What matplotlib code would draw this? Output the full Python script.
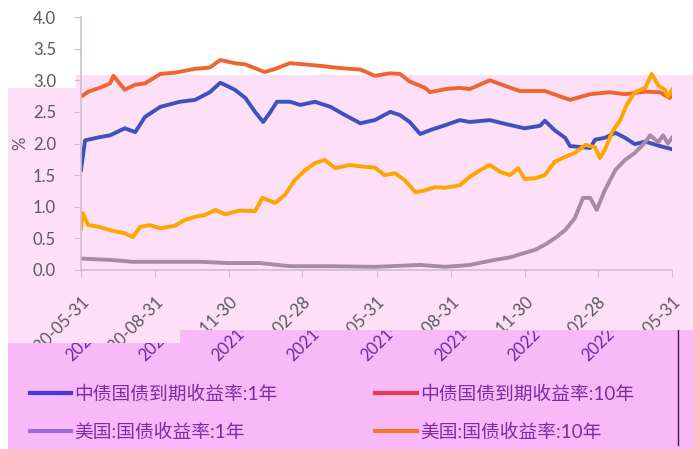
import pandas as pd
import matplotlib
matplotlib.use('Agg')
import matplotlib.pyplot as plt
import matplotlib.transforms as mtransforms
from matplotlib.patches import Rectangle
from matplotlib.lines import Line2D

plt.rcParams['font.family'] = ['Lato', 'Noto Sans CJK SC', 'DejaVu Sans']

# ---- data ----
cn1_dates = ['2020-05-31', '2020-06-05', '2020-06-23', '2020-07-06', '2020-07-24', '2020-08-06',
             '2020-08-18', '2020-09-06', '2020-09-30', '2020-10-19', '2020-11-06', '2020-11-19',
             '2020-11-29', '2020-12-07', '2020-12-20', '2021-01-01', '2021-01-11', '2021-01-19',
             '2021-01-28', '2021-02-13', '2021-02-26', '2021-03-16', '2021-04-04', '2021-04-22',
             '2021-05-11', '2021-05-29', '2021-06-17', '2021-06-29', '2021-07-11', '2021-07-24',
             '2021-08-05', '2021-08-24', '2021-09-11', '2021-09-23', '2021-10-18', '2021-11-06',
             '2021-11-30', '2021-12-19', '2021-12-25', '2022-01-06', '2022-01-19', '2022-01-25',
             '2022-02-19', '2022-02-25', '2022-03-09', '2022-03-22', '2022-04-03', '2022-04-15',
             '2022-04-28', '2022-05-16', '2022-05-31']
cn1_values = [1.58, 2.05, 2.10, 2.13, 2.24, 2.18, 2.42, 2.58, 2.66, 2.69, 2.81, 2.96, 2.90, 2.85,
              2.72, 2.50, 2.34, 2.48, 2.66, 2.66, 2.61, 2.66, 2.58, 2.45, 2.32, 2.37, 2.50, 2.45,
              2.34, 2.15, 2.21, 2.29, 2.37, 2.34, 2.37, 2.31, 2.24, 2.28, 2.36, 2.21, 2.09, 1.96,
              1.93, 2.06, 2.09, 2.17, 2.09, 1.99, 2.03, 1.96, 1.91]

cn10_dates = ['2020-05-31', '2020-06-09', '2020-06-23', '2020-07-06', '2020-07-10', '2020-07-24',
              '2020-08-06', '2020-08-18', '2020-09-06', '2020-09-24', '2020-10-19', '2020-11-06',
              '2020-11-19', '2020-12-07', '2020-12-20', '2021-01-13', '2021-01-26', '2021-02-13',
              '2021-03-04', '2021-03-28', '2021-04-10', '2021-04-28', '2021-05-11', '2021-05-29',
              '2021-06-17', '2021-06-29', '2021-07-11', '2021-07-30', '2021-08-05', '2021-08-24',
              '2021-09-11', '2021-09-23', '2021-10-18', '2021-11-06', '2021-11-24', '2021-12-25',
              '2022-01-25', '2022-02-19', '2022-03-15', '2022-04-03', '2022-04-28', '2022-05-16',
              '2022-05-28', '2022-05-31']
cn10_values = [2.74, 2.82, 2.88, 2.95, 3.07, 2.85, 2.93, 2.95, 3.10, 3.12, 3.18, 3.20, 3.32, 3.27,
               3.25, 3.13, 3.18, 3.27, 3.25, 3.22, 3.20, 3.18, 3.17, 3.07, 3.11, 3.10, 2.98, 2.88,
               2.81, 2.86, 2.88, 2.86, 3.00, 2.91, 2.83, 2.83, 2.69, 2.78, 2.81, 2.78, 2.82, 2.81,
               2.72, 2.75]

us1_dates = ['2020-05-31', '2020-07-06', '2020-08-03', '2020-09-06', '2020-10-25', '2020-11-29',
             '2021-01-07', '2021-02-13', '2021-04-04', '2021-05-29', '2021-07-24', '2021-08-24',
             '2021-09-23', '2021-10-24', '2021-11-12', '2021-11-30', '2021-12-13', '2021-12-25',
             '2022-01-06', '2022-01-19', '2022-01-31', '2022-02-10', '2022-02-19', '2022-02-27',
             '2022-03-09', '2022-03-22', '2022-04-03', '2022-04-15', '2022-04-28', '2022-05-04',
             '2022-05-14', '2022-05-20', '2022-05-26', '2022-05-31']
us1_values = [0.18, 0.16, 0.13, 0.13, 0.13, 0.11, 0.11, 0.06, 0.06, 0.05, 0.08, 0.05, 0.08, 0.16,
              0.20, 0.27, 0.32, 0.40, 0.50, 0.63, 0.82, 1.14, 1.14, 0.95, 1.26, 1.58, 1.74, 1.85,
              2.02, 2.13, 2.02, 2.13, 2.00, 2.09]

us10_dates = ['2020-05-31', '2020-06-02', '2020-06-09', '2020-06-23', '2020-07-06', '2020-07-24',
              '2020-08-03', '2020-08-12', '2020-08-24', '2020-09-06', '2020-09-24', '2020-10-06',
              '2020-10-19', '2020-10-31', '2020-11-13', '2020-11-25', '2020-12-13', '2021-01-01',
              '2021-01-10', '2021-01-26', '2021-02-07', '2021-02-19', '2021-03-04', '2021-03-16',
              '2021-03-28', '2021-04-10', '2021-04-28', '2021-05-17', '2021-05-29', '2021-06-10',
              '2021-06-23', '2021-07-05', '2021-07-18', '2021-07-30', '2021-08-11', '2021-08-24',
              '2021-09-11', '2021-09-23', '2021-10-06', '2021-10-18', '2021-10-31', '2021-11-12',
              '2021-11-22', '2021-11-30', '2021-12-13', '2021-12-25', '2022-01-06', '2022-01-19',
              '2022-01-31', '2022-02-13', '2022-02-25', '2022-03-03', '2022-03-09', '2022-03-18',
              '2022-03-28', '2022-04-05', '2022-04-15', '2022-04-28', '2022-05-06', '2022-05-14',
              '2022-05-22', '2022-05-26', '2022-05-31']
us10_values = [0.65, 0.90, 0.71, 0.68, 0.63, 0.58, 0.52, 0.68, 0.71, 0.66, 0.70, 0.79, 0.84, 0.87,
               0.95, 0.88, 0.94, 0.93, 1.14, 1.06, 1.19, 1.42, 1.58, 1.69, 1.74, 1.61, 1.66, 1.63,
               1.62, 1.50, 1.53, 1.42, 1.23, 1.26, 1.31, 1.30, 1.34, 1.47, 1.58, 1.66, 1.55, 1.50,
               1.61, 1.44, 1.45, 1.50, 1.71, 1.79, 1.85, 1.98, 1.94, 1.77, 1.90, 2.18, 2.37, 2.61,
               2.81, 2.88, 3.10, 2.92, 2.85, 2.74, 2.85]

tick_dates = ['2020-05-31', '2020-08-31', '2020-11-30', '2021-02-28', '2021-05-31',
              '2021-08-31', '2021-11-30', '2022-02-28', '2022-05-31']
y_ticks = [0.0, 0.5, 1.0, 1.5, 2.0, 2.5, 3.0, 3.5, 4.0]
labels = ['中债国债到期收益率:1年', '中债国债到期收益率:10年', '美国:国债收益率:1年', '美国:国债收益率:10年']

W, H = 693, 449
fig = plt.figure(figsize=(W / 100, H / 100), dpi=100)


def box(x0, y0, x1, y1, color, z):
    # rectangle given in picture pixels (y down)
    r = Rectangle((x0 / W, 1 - y1 / H), (x1 - x0) / W, (y1 - y0) / H,
                  transform=fig.transFigure, facecolor=color, edgecolor='none', zorder=z)
    if color != 'none':
        fig.add_artist(r)
    return r


# screenshot background: light pink area and darker band at the bottom
box(8, 88, 76, 449, '#fde0f8', 0)
box(76, 75, 693, 449, '#fde0f8', 0)

ax = fig.add_axes([81 / W, 1 - 270 / H, 591 / W, 253 / H], zorder=1)
ax.patch.set_visible(False)

ax.plot(pd.to_datetime(cn1_dates), cn1_values, color='#3f51bf', lw=2.8)
ax.plot(pd.to_datetime(cn10_dates), cn10_values, color='#f0652f', lw=2.8)
ax.plot(pd.to_datetime(us1_dates), us1_values, color='#a68ba6', lw=2.8)
ax.plot(pd.to_datetime(us10_dates), us10_values, color='#ffa500', lw=2.8)

ticks = pd.to_datetime(tick_dates)
ax.set_xlim(ticks[0], ticks[-1])
ax.set_ylim(0, 4)
ax.set_xticks(ticks)
ax.set_xticklabels(tick_dates)
ax.set_yticks(y_ticks)
ax.set_yticklabels(['%.1f' % v for v in y_ticks])
plt.setp(ax.get_xticklabels(), rotation=45, ha='right', rotation_mode='anchor')
ax.tick_params(axis='x', colors='#d0bcd0', labelcolor='#595959', labelsize=12, length=5, pad=12)
ax.tick_params(axis='y', colors='#d0bcd0', labelcolor='#595959', labelsize=12, length=5, pad=13)
for s in ['top', 'right']:
    ax.spines[s].set_visible(False)
for s in ['left', 'bottom']:
    ax.spines[s].set_color('#d0bcd0')
    ax.spines[s].set_linewidth(1.2)

fig.text(20 / W, 1 - 143 / H, '%', rotation=90, ha='center', va='center', fontsize=12, color='#595959')

# lower band hides the bottom of the date labels
box(8, 343, 180, 449, '#f9b9f9', 2)
box(180, 330, 693, 449, '#f9b9f9', 2)
fig.add_artist(Line2D([678 / W, 678 / W], [1 - 445 / H, 1 - 330 / H], transform=fig.transFigure,
                      color='#3a1f4a', lw=1, zorder=3))

# second, shifted copy of the date labels showing through the band
clip_low = box(8, 343, 677, 449, 'none', 0)
clip_high = box(8, 331, 677, 449, 'none', 0)
off = mtransforms.offset_copy(ax.get_xaxis_transform(), fig=fig, x=-24, y=-25, units='dots')
for i, (d, lab) in enumerate(zip(ticks, tick_dates)):
    if i == 0:
        continue
    t = fig.text(ax.convert_xunits(d), 0, lab, transform=off, rotation=45, ha='right',
                 va='center', rotation_mode='anchor', fontsize=12, color='#6a2c9a', zorder=4)
    t.set_clip_path(clip_low if i <= 2 else clip_high)

handles = [Line2D([], [], color='#4338dc', lw=3), Line2D([], [], color='#a06cd0', lw=3),
           Line2D([], [], color='#e83a50', lw=3), Line2D([], [], color='#f07a30', lw=3)]
leg = fig.legend(handles, [labels[0], labels[2], labels[1], labels[3]], ncol=2, loc='upper left',
                 bbox_to_anchor=(22 / W, 1 - 378 / H), frameon=False, fontsize=13.5,
                 labelcolor='#7a2ca0', handlelength=2.2, handletextpad=0.2, columnspacing=5.2,
                 labelspacing=1.1, borderaxespad=0)
leg.set_zorder(5)

fig.savefig('out.png', dpi=100)
